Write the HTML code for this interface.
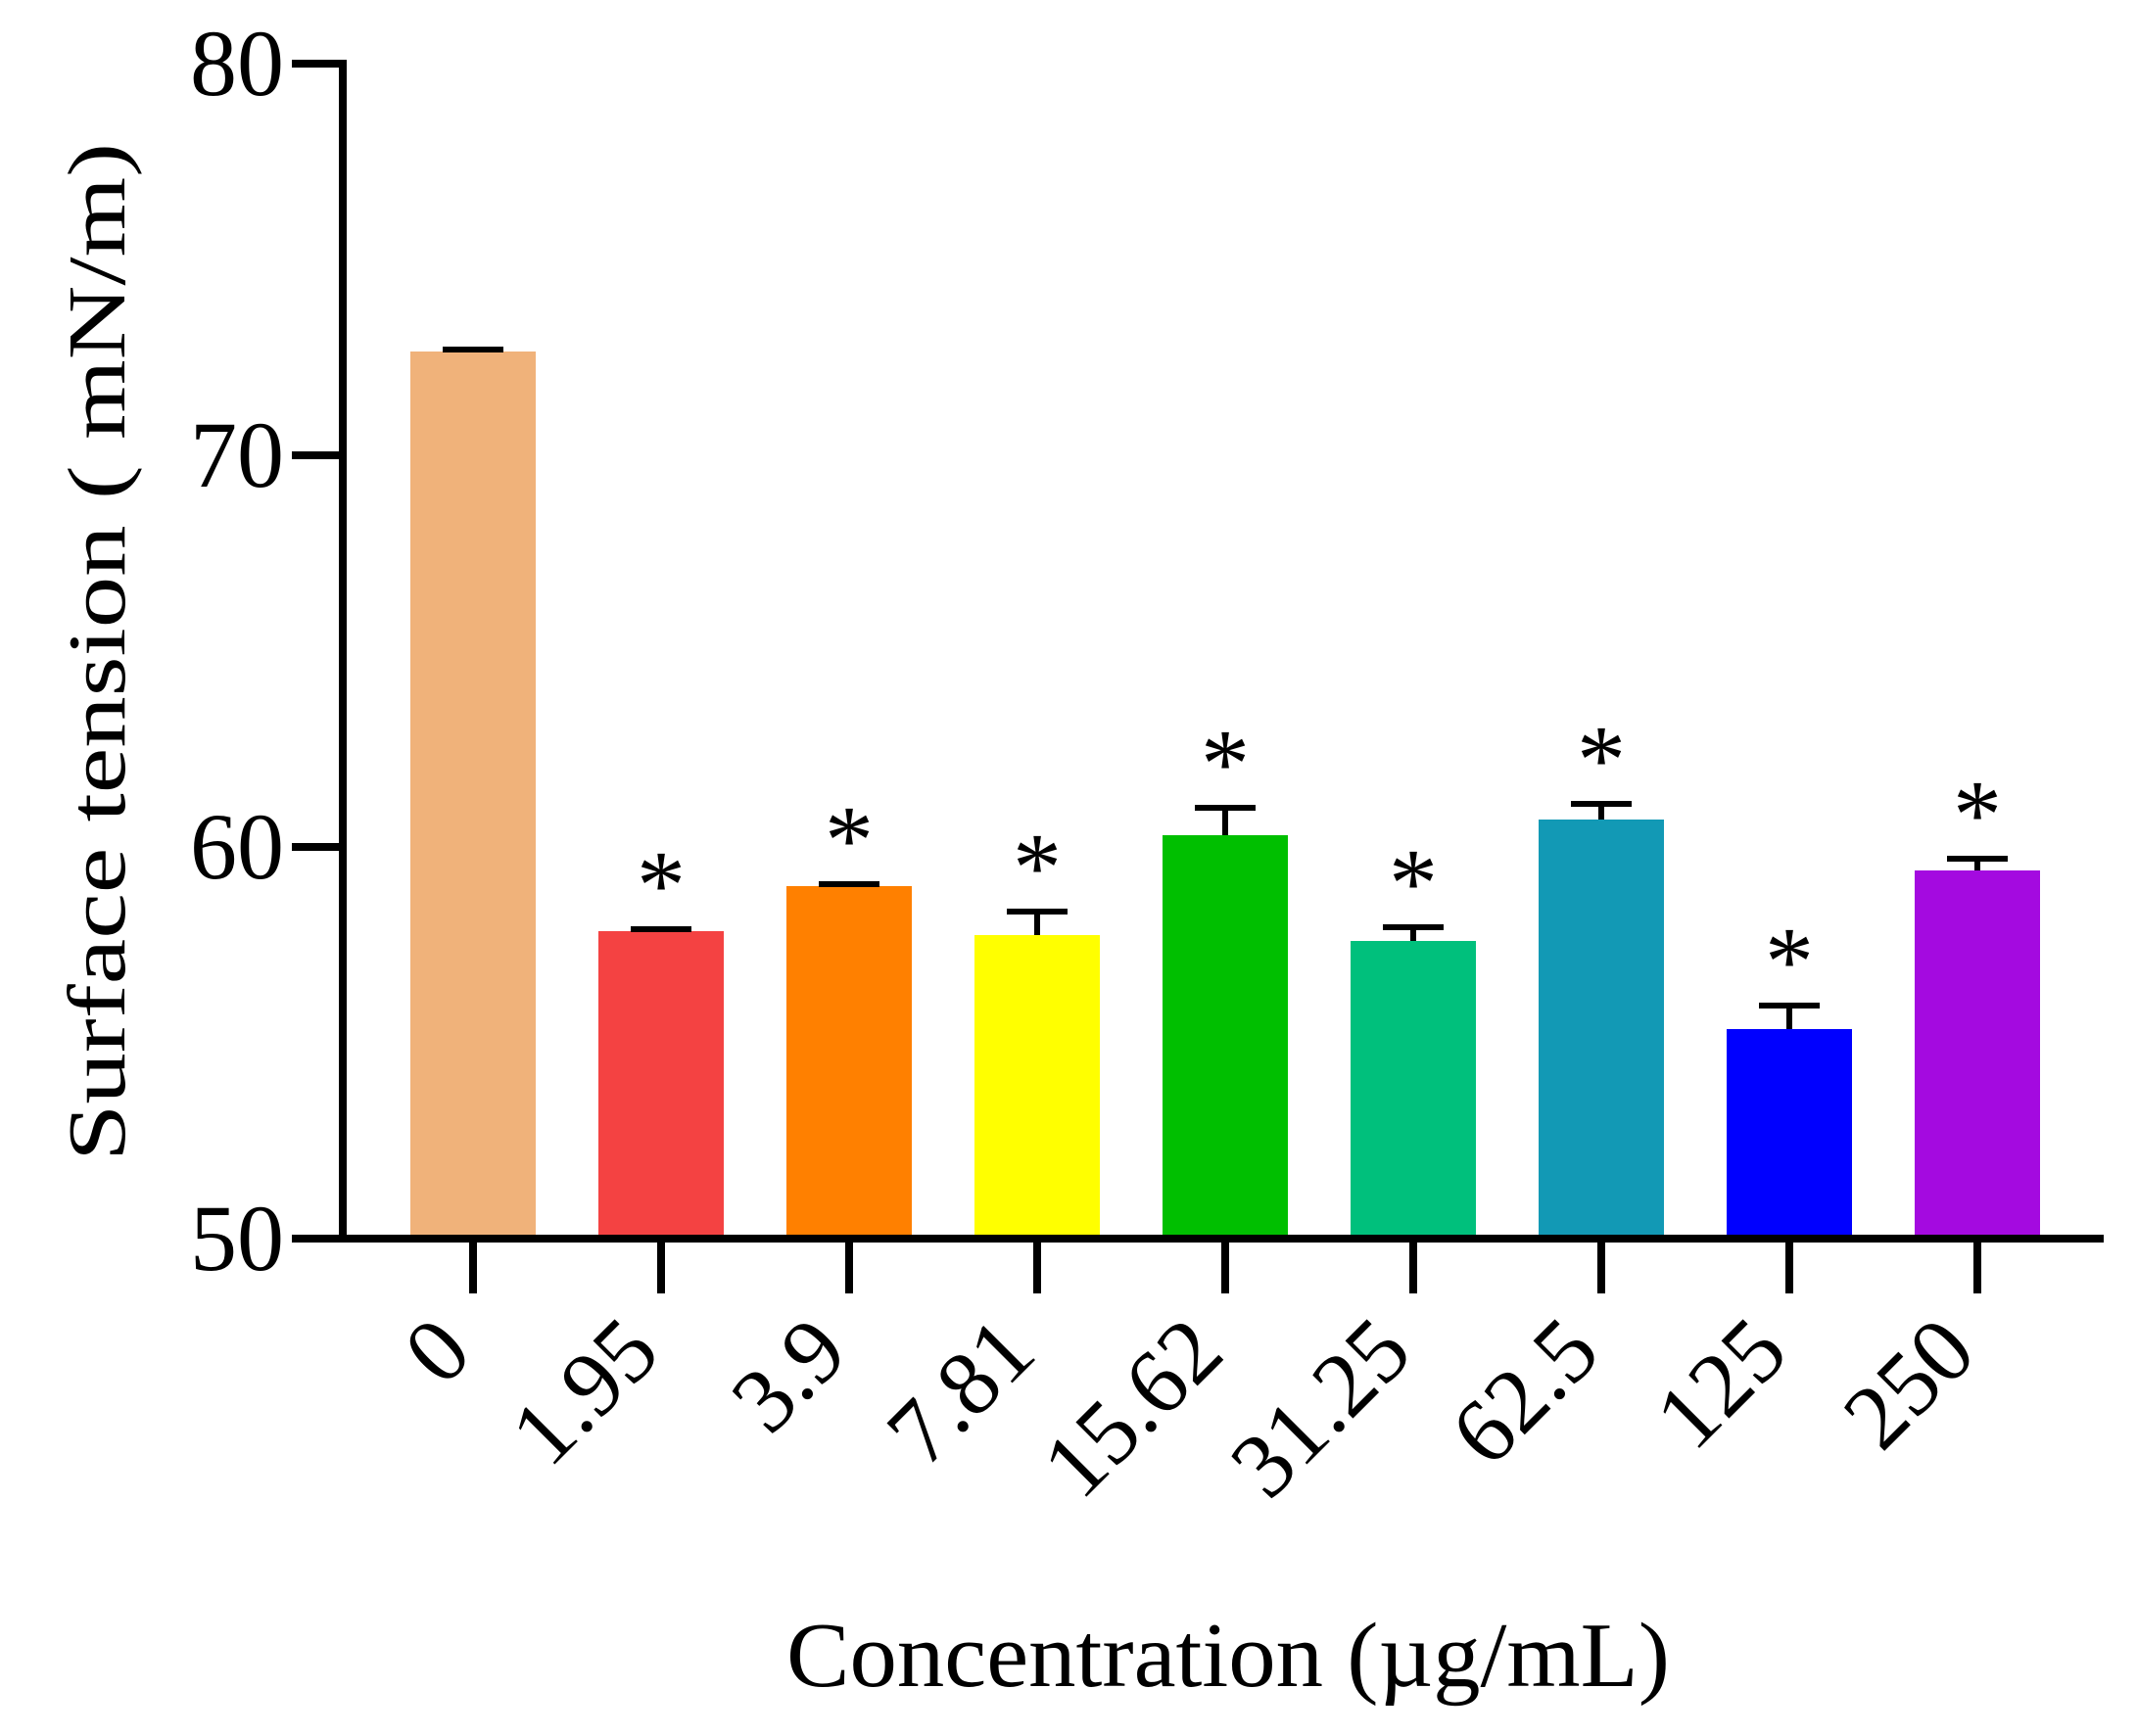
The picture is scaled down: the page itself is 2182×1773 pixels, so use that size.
<!DOCTYPE html>
<html><head><meta charset="utf-8"><style>
html,body{margin:0;padding:0;background:#fff;}
svg{display:block;}
text{font-family:"Liberation Serif","Times New Roman",serif;fill:#000;}
</style></head><body>
<svg id="chart" width="2182" height="1773" viewBox="0 0 2182 1773" xmlns="http://www.w3.org/2000/svg">
<g id="bars"></g>
<g id="axes"></g>
<text transform="translate(127,666) rotate(-90)" text-anchor="middle" font-size="84" textLength="1040" lengthAdjust="spacingAndGlyphs">Surface tension ( mN/m)</text>
<text x="1254" y="1722" text-anchor="middle" font-size="94" textLength="902" lengthAdjust="spacingAndGlyphs">Concentration (µg/mL)</text>
</svg>
<script>
const categories = ["0","1.95","3.9","7.81","15.62","31.25","62.5","125","250"];
const values = [72.65, 57.85, 59.0, 57.75, 60.3, 57.6, 60.7, 55.35, 59.4];
const errors = [0.05, 0.05, 0.05, 0.6, 0.7, 0.35, 0.4, 0.6, 0.3];
const significant = [false, true, true, true, true, true, true, true, true];
const colors = ["#F0B27A","#F44242","#FF8000","#FFFF00","#00BF00","#00C07C","#1299B5","#0000FF","#A40AE0"];
const yTicks = [50, 60, 70, 80];

const NS = "http://www.w3.org/2000/svg";
const yMin = 50, yMax = 80, yTop = 65, yBot = 1265;
const axisX = 350, x0 = 483, step = 192, barW = 128;
function y(v){ return yBot - (v - yMin) / (yMax - yMin) * (yBot - yTop); }
function x(i){ return x0 + i * step; }
function mk(tag, attrs, parent){ const e = document.createElementNS(NS, tag); for (const k in attrs) e.setAttribute(k, attrs[k]); parent.appendChild(e); return e; }

const bars = document.getElementById('bars');
const axes = document.getElementById('axes');
categories.forEach((c, i) => {
  const cx = x(i), top = y(values[i]);
  const r = mk('rect', {x: cx - barW/2, y: top, width: barW, height: yBot - top, fill: colors[i]}, bars);
  
  
  const et = y(values[i] + errors[i]);
  const eg = mk('g', {stroke: '#000', 'stroke-width': 6}, bars);
  
  
  mk('line', {x1: cx, x2: cx, y1: top, y2: et}, eg);
  mk('line', {x1: cx - 31, x2: cx + 31, y1: et, y2: et}, eg);
  if (significant[i]) {
    const s = mk('text', {x: cx, y: et - 12, 'text-anchor': 'middle', 'font-size': 100}, bars);
    s.textContent = '*';
    
    
  }
  const t = mk('line', {x1: cx, x2: cx, y1: yBot, y2: 1321, stroke: '#000', 'stroke-width': 8}, axes);
  
  
  const l = mk('text', {'text-anchor': 'end', 'font-size': 94, transform: 'translate(' + (cx + 2) + ',1385) rotate(-45)'}, axes);
  l.textContent = c;
  
  
});
const ya = mk('line', {x1: axisX, x2: axisX, y1: yTop - 4, y2: yBot + 4, stroke: '#000', 'stroke-width': 8}, axes);


const xa = mk('line', {x1: axisX - 4, x2: 2148, y1: yBot, y2: yBot, stroke: '#000', 'stroke-width': 8}, axes);


yTicks.forEach(v => {
  const t = mk('line', {x1: 298, x2: axisX, y1: y(v), y2: y(v), stroke: '#000', 'stroke-width': 8}, axes);
  
  
  const l = mk('text', {x: 290, y: y(v) + 32, 'text-anchor': 'end', 'font-size': 96}, axes);
  l.textContent = v;
  
  
});
</script>
</body></html>
